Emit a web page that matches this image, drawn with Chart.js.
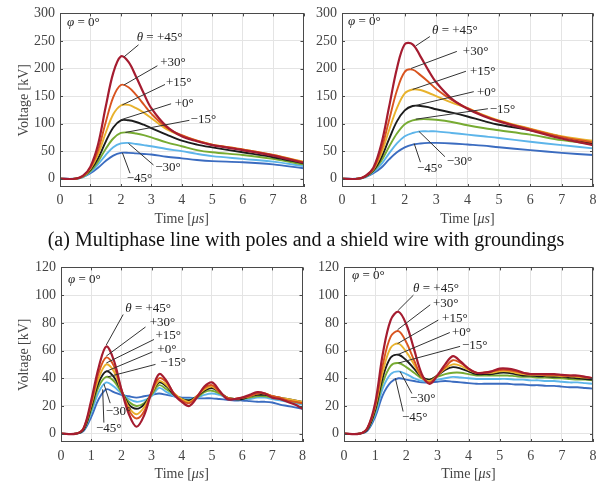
<!DOCTYPE html>
<html>
<head>
<meta charset="utf-8">
<script src="https://cdn.jsdelivr.net/npm/chart.js@4.4.0/dist/chart.umd.min.js"></script>
<style>
  body { margin: 0; background: #fff; }
  #wrap { position: relative; width: 612px; height: 492px; overflow: hidden; }
  canvas { position: absolute; }
  #caption { position: absolute; left: 0; top: 228px; width: 612px; text-align: center;
             font: 20px "Liberation Serif", serif; line-height: 22px; color: #111; }
</style>
</head>
<body>
<div id="wrap">
  <canvas id="c1" width="312" height="230" style="left:0;top:0"></canvas>
  <canvas id="c2" width="322" height="230" style="left:290px;top:0"></canvas>
  <div id="caption">(a) Multiphase line with poles and a shield wire with groundings</div>
  <canvas id="c3" width="312" height="238" style="left:0;top:254px"></canvas>
  <canvas id="c4" width="322" height="238" style="left:290px;top:254px"></canvas>
</div>
<script>
// time axis [us]
const timeTop = [0, 0.5, 0.75, 1, 1.25, 1.5, 1.75, 2, 2.25, 2.5, 2.75, 3, 3.5, 4, 4.5, 5, 6, 7, 8];
const timeBottom = [0, 0.5, 0.75, 1, 1.25, 1.5, 1.75, 2, 2.25, 2.5, 2.75, 3, 3.25, 3.5, 3.75, 4,
  4.25, 4.5, 4.75, 5, 5.25, 5.5, 5.75, 6, 6.25, 6.5, 6.75, 7, 7.25, 7.5, 7.75, 8];

const angleLabels = ["θ = +45°", "+30°", "+15°", "+0°", "−15°", "−30°", "−45°"];
const colors = ["#a51c30", "#d9541f", "#e8b22c", "#1c1c1c", "#77ab32", "#5db5ea", "#3b6cc0"];

// top left
const tlP45 = [0, 0, 5, 22, 62, 130, 192, 222, 212, 185, 155, 128, 95, 77, 68, 61, 52, 42, 29];
const tlP30 = [0, 0, 5, 20, 52, 102, 148, 170, 166, 152, 135, 118, 93, 79, 69, 62, 53, 43, 30];
const tlP15 = [0, 0, 4, 18, 44, 83, 117, 133, 134, 128, 120, 110, 90, 78, 69, 62, 53, 43, 31];
const tlZ0  = [0, 0, 4, 16, 37, 67, 93, 106, 106, 103, 98, 92, 80, 69, 62, 57, 48, 39, 28];
const tlM15 = [0, 0, 4, 14, 31, 54, 73, 83, 84, 82, 79, 75, 66, 59, 52, 48, 43, 36, 26];
const tlM30 = [0, 0, 3, 12, 26, 43, 57, 64, 65, 63, 61, 59, 54, 50, 45, 41, 36, 31, 23];
const tlM45 = [0, 0, 3, 10, 20, 32, 42, 47, 47, 46, 45, 44, 40, 37, 34, 32, 30, 26, 19];

// top right
const trP45 = [0, 0, 5, 20, 62, 130, 200, 244, 244, 222, 197, 175, 145, 127, 114, 104, 88, 73, 61];
const trP30 = [0, 0, 5, 18, 52, 106, 160, 194, 198, 188, 176, 163, 143, 128, 115, 105, 90, 76, 66];
const trP15 = [0, 0, 5, 17, 45, 88, 128, 155, 162, 161, 156, 150, 138, 128, 116, 106, 91, 77, 69];
const trZ0  = [0, 0, 4, 15, 38, 72, 104, 124, 132, 132, 130, 126, 120, 113, 105, 98, 88, 76, 64];
const trM15 = [0, 0, 4, 14, 32, 58, 82, 99, 106, 108, 108, 107, 103, 97, 92, 88, 80, 70, 63];
const trM30 = [0, 0, 3, 12, 26, 46, 64, 77, 83, 86, 86, 86, 83, 80, 77, 74, 67, 61, 55];
const trM45 = [0, 0, 3, 10, 20, 35, 48, 57, 62, 64, 65, 65, 64, 62, 60, 57, 52, 47, 43];

// bottom left
const blP45 = [0, 0, 4, 24, 48, 63, 53, 32, 14, 5, 13, 30, 43, 38, 28, 23, 20, 26, 34, 37, 31, 25, 25, 26, 28, 30, 29, 26, 25, 23, 21, 18];
const blP30 = [0, 0, 4, 22, 44, 55, 49, 32, 17, 11, 16, 30, 40, 37, 29, 24, 22, 27, 33, 35, 30, 26, 25, 26, 27, 29, 29, 27, 26, 24, 23, 22];
const blP15 = [0, 0, 4, 21, 40, 50, 45, 31, 19, 14, 19, 29, 38, 35, 29, 25, 23, 27, 32, 34, 30, 26, 25, 26, 27, 29, 29, 27, 26, 25, 24, 23];
const blZ0  = [0, 0, 3, 19, 37, 45, 41, 31, 21, 18, 21, 29, 37, 34, 28, 25, 24, 27, 31, 33, 30, 26, 25, 25, 27, 28, 28, 27, 26, 25, 24, 23];
const blM15 = [0, 0, 3, 17, 34, 41, 38, 30, 23, 20, 22, 28, 35, 32, 28, 25, 24, 26, 30, 31, 29, 26, 25, 25, 26, 27, 27, 26, 25, 24, 23, 22];
const blM30 = [0, 0, 3, 15, 30, 37, 34, 29, 25, 23, 24, 27, 33, 30, 27, 25, 25, 26, 28, 29, 28, 26, 25, 25, 25, 26, 26, 25, 24, 23, 22, 21];
const blM45 = [0, 0, 2, 12, 25, 32, 30, 28, 27, 26, 27, 28, 29, 28, 27, 26, 26, 25.5, 25.5, 25.5, 25, 24.5, 24, 24, 23.5, 23, 23, 22.5, 21, 20, 19, 18];

// bottom right
const brP45 = [0, 0, 4, 22, 58, 82, 88, 79, 61, 43, 36, 42, 50, 56, 52, 47, 44, 44, 45, 47, 47, 46, 44, 43, 43, 43, 43, 42.5, 42, 42, 41, 40];
const brP30 = [0, 0, 4, 20, 50, 70, 74, 66, 53, 41, 37, 42, 48, 53, 51, 47, 44, 44, 45, 46, 46, 45, 44, 43, 43, 42.5, 42.5, 42, 42, 41.5, 41, 40];
const brP15 = [0, 0, 4, 19, 45, 62, 65, 59, 50, 41, 38, 42, 47, 50, 49, 46, 44, 44, 44, 45, 45, 44, 43, 42.5, 42.5, 42, 42, 41.5, 41.5, 41, 40.5, 40];
const brZ0  = [0, 0, 3, 17, 41, 55, 57, 53, 47, 41, 39, 42, 46, 48, 47, 45, 43, 43, 43, 44, 44, 43, 42, 42, 41.5, 41.5, 41, 41, 40.5, 40, 39.5, 39];
const brM15 = [0, 0, 3, 16, 37, 49, 51, 48, 44, 40, 39, 41, 43, 44, 44, 43, 42, 42, 42, 42, 42, 41.5, 41, 41, 40.5, 40.5, 40, 40, 39.5, 39, 39, 38.5];
const brM30 = [0, 0, 3, 14, 33, 43, 45, 43, 40, 38, 38, 39, 40, 41, 40.5, 40, 39.5, 39.5, 39.5, 39.5, 39.5, 39, 39, 38.5, 38.5, 38, 38, 37.5, 37, 37, 36.5, 36];
const brM45 = [0, 0, 2, 12, 28, 37, 40, 39, 38, 37, 37, 37.5, 38, 37.5, 37, 36.5, 36, 36, 36, 36, 36, 35.5, 35.5, 35, 35, 34.5, 34.5, 34, 33.5, 33.5, 33, 32.5];

const FONT = '"Liberation Serif", "Times New Roman", serif';

function drawLabel(ctx, text, px, py) {
  ctx.textBaseline = "middle";
  ctx.textAlign = "left";
  ctx.fillStyle = "#222";
  let cx = px;
  if (text[0] === "θ" || text[0] === "φ") {
    ctx.font = "italic 13px " + FONT;
    ctx.fillText(text[0], cx, py);
    cx += ctx.measureText(text[0]).width;
    text = text.slice(1);
  }
  ctx.font = "13px " + FONT;
  ctx.fillText(text, cx, py);
}

// box, inner ticks, x title and the leader-line labels
const framePlugin = {
  id: "frame",
  afterDatasetsDraw(chart, args, opts) {
    const { ctx, chartArea: a, scales: { x, y } } = chart;
    ctx.save();
    ctx.strokeStyle = "#333";
    ctx.lineWidth = 1;
    opts.notes.forEach(n => {
      ctx.beginPath();
      ctx.moveTo(x.getPixelForValue(n.from[0]), y.getPixelForValue(n.from[1]));
      ctx.lineTo(x.getPixelForValue(n.to[0]), y.getPixelForValue(n.to[1]));
      ctx.stroke();
      drawLabel(ctx, n.text, x.getPixelForValue(n.at[0]), y.getPixelForValue(n.at[1]));
    });
    drawLabel(ctx, "φ = 0°", x.getPixelForValue(opts.phi[0]), y.getPixelForValue(opts.phi[1]));

    ctx.strokeStyle = "#4a4a4a";
    ctx.beginPath();
    x.ticks.forEach(t => {
      const px = Math.round(x.getPixelForValue(t.value)) + 0.5;
      ctx.moveTo(px, a.bottom); ctx.lineTo(px, a.bottom - 3);
      ctx.moveTo(px, a.top); ctx.lineTo(px, a.top + 3);
    });
    y.ticks.forEach(t => {
      const py = Math.round(y.getPixelForValue(t.value)) + 0.5;
      ctx.moveTo(a.left, py); ctx.lineTo(a.left + 3, py);
      ctx.moveTo(a.right, py); ctx.lineTo(a.right - 3, py);
    });
    ctx.stroke();
    ctx.strokeRect(Math.round(a.left) + 0.5, Math.round(a.top) + 0.5,
      Math.round(a.width) - 1, Math.round(a.height) - 1);

    // "Time [μs]" with italic μs
    const parts = [["Time [", ""], ["μs", "italic "], ["]", ""]];
    let w = 0;
    parts.forEach(p => { ctx.font = p[1] + "14px " + FONT; w += ctx.measureText(p[0]).width; });
    let cx = (a.left + a.right) / 2 - w / 2;
    ctx.fillStyle = "#444";
    ctx.textBaseline = "middle";
    ctx.textAlign = "left";
    parts.forEach(p => {
      ctx.font = p[1] + "14px " + FONT;
      ctx.fillText(p[0], cx, a.bottom + 32);
      cx += ctx.measureText(p[0]).width;
    });
    ctx.restore();
  }
};

function makeChart(id, time, series, cfg) {
  new Chart(document.getElementById(id), {
    type: "line",
    data: {
      datasets: series.map((vals, i) => ({
        label: angleLabels[i],
        data: vals.map((v, k) => ({ x: time[k], y: v })),
        borderColor: colors[i],
        borderWidth: i === 0 ? 2.2 : 1.9,
        pointRadius: 0,
        fill: false,
        tension: 0.35
      }))
    },
    options: {
      responsive: false,
      animation: false,
      devicePixelRatio: 1,
      layout: { padding: cfg.padding },
      plugins: {
        legend: { display: false },
        tooltip: { enabled: false },
        frame: { notes: cfg.notes, phi: cfg.phi }
      },
      scales: {
        x: {
          type: "linear",
          min: 0, max: 8,
          ticks: { stepSize: 1, padding: cfg.xPad, color: "#444", font: { family: FONT, size: 14 }, maxRotation: 0 },
          grid: { color: "#e4e4e4", drawTicks: false },
          border: { display: false },
          afterFit: s => { s.height = cfg.xHeight; }
        },
        y: {
          min: cfg.yMin, max: cfg.yMax,
          ticks: { stepSize: cfg.yStep, includeBounds: false, padding: 5, color: "#444", font: { family: FONT, size: 14 } },
          grid: { color: "#e4e4e4", drawTicks: false },
          border: { display: false },
          title: { display: cfg.yTitle, text: "Voltage [kV]", color: "#444",
                   font: { family: FONT, size: 14 }, padding: { top: 16, bottom: 0 } },
          afterFit: s => { s.width = cfg.yWidth; }
        }
      }
    },
    plugins: [framePlugin]
  });
}

makeChart("c1", timeTop, [tlP45, tlP30, tlP15, tlZ0, tlM15, tlM30, tlM45], {
  padding: { left: 0, top: 9, right: 4, bottom: 0 }, yWidth: 60, xHeight: 43, xPad: 5,
  yMin: -15, yMax: 300, yStep: 50, yTitle: true, phi: [0.23, 284],
  notes: [
    { text: angleLabels[0], at: [2.52, 256], from: [2.58, 243], to: [2.1, 221] },
    { text: angleLabels[1], at: [3.29, 210], from: [3.2, 205], to: [2.1, 170] },
    { text: angleLabels[2], at: [3.48, 174], from: [3.45, 171], to: [2.05, 134] },
    { text: angleLabels[3], at: [3.77, 136], from: [3.65, 136], to: [2.0, 107] },
    { text: angleLabels[4], at: [4.29, 107], from: [4.25, 106], to: [2.15, 84] },
    { text: angleLabels[5], at: [3.13, 20], from: [3.07, 25], to: [2.25, 64] },
    { text: angleLabels[6], at: [2.19, 0], from: [2.3, 10], to: [2.05, 47] }
  ]
});

makeChart("c2", timeTop, [trP45, trP30, trP15, trZ0, trM15, trM30, trM45], {
  padding: { left: 0, top: 9, right: 19, bottom: 0 }, yWidth: 52, xHeight: 43, xPad: 5,
  yMin: -15, yMax: 300, yStep: 50, yTitle: false, phi: [0.19, 286],
  notes: [
    { text: angleLabels[0], at: [2.87, 268], from: [2.8, 258], to: [2.35, 241] },
    { text: angleLabels[1], at: [3.85, 231], from: [3.66, 231], to: [2.2, 200] },
    { text: angleLabels[2], at: [4.08, 194], from: [3.95, 195], to: [2.25, 162] },
    { text: angleLabels[3], at: [4.3, 156], from: [4.2, 158], to: [2.35, 133] },
    { text: angleLabels[4], at: [4.71, 126], from: [4.65, 127], to: [2.35, 108] },
    { text: angleLabels[5], at: [3.34, 32], from: [3.28, 40], to: [2.45, 86] },
    { text: angleLabels[6], at: [2.39, 18], from: [2.5, 30], to: [2.3, 64] }
  ]
});

makeChart("c3", timeBottom, [blP45, blP30, blP15, blZ0, blM15, blM30, blM45], {
  padding: { left: 0, top: 9, right: 4, bottom: 0 }, yWidth: 61, xHeight: 50, xPad: 6,
  yMin: -6, yMax: 120, yStep: 20, yTitle: true, phi: [0.23, 111],
  notes: [
    { text: angleLabels[0], at: [2.13, 90], from: [2.06, 86], to: [1.5, 64] },
    { text: angleLabels[1], at: [2.94, 80], from: [2.8, 77], to: [1.5, 56] },
    { text: angleLabels[2], at: [3.13, 70.5], from: [3.08, 68], to: [1.5, 51] },
    { text: angleLabels[3], at: [3.19, 61], from: [3.03, 59], to: [1.5, 45] },
    { text: angleLabels[4], at: [3.29, 51.5], from: [3.13, 50], to: [1.55, 41] },
    { text: angleLabels[5], at: [1.48, 16], from: [1.63, 22], to: [1.42, 36] },
    { text: angleLabels[6], at: [1.16, 3.5], from: [1.42, 8], to: [1.38, 32] }
  ]
});

makeChart("c4", timeBottom, [brP45, brP30, brP15, brZ0, brM15, brM30, brM45], {
  padding: { left: 0, top: 9, right: 19, bottom: 0 }, yWidth: 54, xHeight: 50, xPad: 6,
  yMin: -6, yMax: 120, yStep: 20, yTitle: false, phi: [0.26, 114],
  notes: [
    { text: angleLabels[0], at: [2.22, 104.5], from: [2.23, 100], to: [1.74, 89] },
    { text: angleLabels[1], at: [2.86, 94], from: [2.77, 93], to: [1.72, 75] },
    { text: angleLabels[2], at: [3.15, 83], from: [3.03, 82], to: [1.72, 65] },
    { text: angleLabels[3], at: [3.47, 73], from: [3.4, 73], to: [1.72, 57] },
    { text: angleLabels[4], at: [3.79, 63.5], from: [3.73, 63], to: [1.75, 51] },
    { text: angleLabels[5], at: [2.12, 25], from: [2.18, 29], to: [1.8, 45] },
    { text: angleLabels[6], at: [1.86, 11.5], from: [1.9, 16], to: [1.65, 40] }
  ]
});
</script>
</body>
</html>
